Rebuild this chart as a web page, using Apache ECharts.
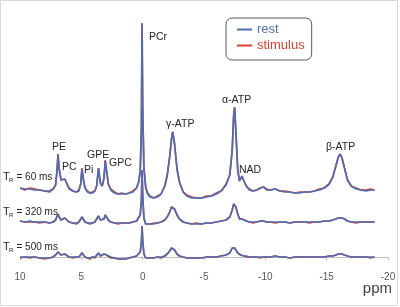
<!DOCTYPE html>
<html>
<head>
<meta charset="utf-8">
<script src="https://cdn.jsdelivr.net/npm/echarts@6/dist/echarts.min.js"></script>
<style>
  html, body { margin: 0; padding: 0; background: #fff; }
  #chart { width: 400px; height: 307px; }
</style>
</head>
<body>
<div id="chart"></div>
<script>
// chemical shift (ppm), shared by every trace
const ppm = [
  10, 9.6, 9.2, 8.8, 8.4, 8.0, 7.6, 7.3, 7.1, 7.0,
  6.9, 6.8, 6.65, 6.5, 6.35, 6.2, 6.0, 5.7, 5.4, 5.2,
  5.05, 4.95, 4.85, 4.7, 4.5, 4.3, 4.1, 3.9, 3.75, 3.6,
  3.45, 3.3, 3.15, 3.05, 2.95, 2.8, 2.6, 2.3, 2.0, 1.7,
  1.4, 1.1, 0.8, 0.5, 0.35, 0.2, 0.1, 0.05, 0, -0.1,
  -0.25, -0.4, -0.6, -0.9, -1.2, -1.5, -1.8, -2.0, -2.2, -2.35,
  -2.45, -2.6, -2.8, -3.0, -3.3, -3.6, -4.0, -4.4, -4.8, -5.2,
  -5.6, -6.0, -6.4, -6.8, -7.1, -7.3, -7.42, -7.5, -7.6, -7.75,
  -7.9, -8.0, -8.1, -8.25, -8.45, -8.7, -9.0, -9.3, -9.6, -9.85,
  -10.1, -10.4, -10.8, -11.2, -11.6, -12.0, -12.4, -12.8, -13.2, -13.6,
  -14.0, -14.4, -14.8, -15.2, -15.5, -15.75, -15.95, -16.1, -16.25, -16.45,
  -16.7, -17.0, -17.4, -17.8, -18.2, -18.6, -18.9
];

// TR = 60 ms
const rest60 = [
  2, 1, 1, 0, 0, -1, -1, 1, 5, 16,
  34, 20, 10, 8, 11, 7, 2, -1, -2, -1,
  6, 21, 12, 2, -2, -3, -3, -1, 4, 22,
  7, 4, 12, 29, 20, 6, 0, -3, -4, -4,
  -4, -3, -2, 2, 7, 18, 65, 167, 85, 22,
  2, -4, -7, -8, -7, -4, 4, 14, 33, 51,
  58, 46, 21, 8, -2, -6, -8, -8, -8, -7,
  -6, -4, -1, 5, 15, 40, 75, 83, 58, 20,
  9, 10, 14, 9, 4, 0, -1, 0, 2, 3,
  0, 0, 1, -1, -2, -2, -3, -3, -2, -2,
  -1, 0, 2, 6, 13, 24, 33, 36, 32, 22,
  10, 4, 1, 0, -1, 0, 0
];
const stim60 = [
  2, 0, 2, 1, 0, -1, -2, 1, 5, 17,
  36, 21, 10, 9, 11, 7, 1, -1, -2, 0,
  6, 22, 12, 2, -1, -3, -2, -1, 4, 22,
  7, 4, 12, 30, 20, 6, 1, -2, -4, -3,
  -4, -3, -1, 2, 7, 18, 65, 166, 85, 22,
  3, -3, -6, -8, -6, -4, 4, 15, 33, 51,
  58, 46, 21, 8, -2, -5, -7, -8, -8, -6,
  -6, -3, -1, 6, 15, 40, 75, 82, 58, 20,
  9, 10, 14, 9, 4, 1, -1, 0, 2, 3,
  1, 0, 1, -1, -1, -2, -3, -2, -2, -2,
  -1, 1, 2, 6, 13, 24, 33, 36, 32, 22,
  10, 4, 2, 0, 0, 1, 0
];

// TR = 320 ms
const rest320 = [
  1, 0, 1, 0, 0, 0, -1, 0, 2, 5,
  8, 5, 2, 3, 4, 2, 0, -1, -1, 0,
  2, 5, 3, 0, -1, -1, -1, 0, 1, 6,
  2, 1, 3, 7, 5, 2, 0, -1, -1, -1,
  -1, -1, 0, 1, 3, 7, 22, 52, 27, 4,
  -2, -3, -2, -2, -1, 0, 2, 5, 10, 15,
  17, 13, 7, 3, 0, -1, -2, -2, -2, -1,
  -1, 0, 1, 2, 5, 12, 18, 20, 15, 8,
  3, 3, 3, 2, 1, 0, 0, 0, 1, 1,
  0, 0, 0, 0, 0, -1, 0, 0, 0, 0,
  0, 0, 1, 1, 2, 3, 4, 5, 4, 3,
  1, 0, 0, 0, 0, 0, 0
];
const stim320 = [
  1, 0, 0, 0, -1, 0, -1, 0, 2, 5,
  8, 5, 2, 3, 4, 2, 0, -1, -2, 0,
  2, 5, 3, 0, -1, -2, -1, 0, 1, 6,
  2, 1, 3, 7, 5, 2, 0, -1, -2, -1,
  -1, -1, 0, 1, 3, 7, 22, 51, 27, 4,
  -2, -3, -2, -1, -1, 0, 2, 5, 10, 15,
  17, 13, 7, 3, 0, -1, -2, -1, -2, -1,
  -1, 0, 1, 2, 5, 12, 18, 20, 15, 8,
  3, 3, 3, 2, 1, 0, -1, 0, 1, 1,
  0, 0, -1, 0, 0, -1, 0, 0, 0, -1,
  0, 0, 1, 1, 2, 3, 4, 5, 4, 3,
  1, 0, -1, 0, 0, 0, 0
];

// TR = 500 ms
const rest500 = [
  0, 0, 0, 0, -1, -1, -1, 0, 2, 4,
  5, 4, 2, 2, 3, 2, 0, 0, 0, 0,
  2, 4, 2, 0, -1, -1, 0, 0, 1, 4,
  1, 1, 3, 4, 2, 0, 0, -1, -2, -2,
  -2, -1, 0, 1, 2, 5, 15, 31, 17, 3,
  -1, -1, -1, -1, 0, 0, 1, 3, 6, 9,
  10, 7, 3, 1, 0, -1, -1, -1, -1, 0,
  0, 0, 1, 2, 4, 9, 10, 9, 7, 4,
  3, 2, 2, 1, 1, 0, 0, 0, 0, 0,
  0, 0, 1, 0, 0, -1, 0, 0, 0, 0,
  0, 0, 0, 1, 1, 2, 3, 4, 3, 2,
  1, 0, 0, 0, 0, 0, 0
];
const stim500 = [
  -1, 0, -1, 0, -1, -2, -1, 0, 2, 4,
  5, 4, 2, 2, 3, 2, 0, -1, 0, 0,
  2, 4, 2, 0, -1, -2, 0, -1, 1, 4,
  1, 1, 3, 4, 2, 0, -1, -1, -2, -2,
  -2, -1, 0, 1, 2, 5, 15, 31, 17, 3,
  -1, -2, -1, -1, 0, -1, 1, 3, 6, 9,
  10, 7, 3, 1, 0, -1, -1, -1, -1, 0,
  0, 0, 1, 2, 4, 9, 10, 9, 7, 4,
  3, 2, 2, 1, 0, 0, 0, 0, -1, 0,
  0, 0, 1, 0, 0, -1, 0, 0, 0, 0,
  0, 0, 0, 1, 1, 2, 3, 4, 3, 2,
  1, 0, 0, 0, 0, -1, 0
];

const xTicks = [10, 5, 0, -5, -10, -15, -20];

const peakLabels = [
  { text: 'PCr', x: 149, y: 37 },
  { text: 'γ-ATP', x: 166, y: 124 },
  { text: 'α-ATP', x: 222, y: 100 },
  { text: 'NAD', x: 239, y: 170 },
  { text: 'β-ATP', x: 326, y: 147 },
  { text: 'PE', x: 52, y: 147 },
  { text: 'PC', x: 62, y: 167 },
  { text: 'Pi', x: 84, y: 170 },
  { text: 'GPE', x: 87, y: 155 },
  { text: 'GPC', x: 109, y: 163 }
];
const trLabels = [
  { value: '60', y: 177 },
  { value: '320', y: 212 },
  { value: '500', y: 247 }
];

const BLUE = '#4d6db5';
const RED = '#d94030';
const FONT = 'Liberation Sans, Arial, sans-serif';

[rest60, stim60, rest320, stim320, rest500, stim500].forEach((arr) => {
  if (arr.length !== ppm.length) {
    throw new Error(`length mismatch ${arr.length} vs ${ppm.length}`);
  }
});

const toPairs = arr => ppm.map((p, i) => [p, arr[i]]);

const chart = echarts.init(document.getElementById('chart'), null, { renderer: 'canvas' });

// one grid per trace, same x scale
const grids = [
  { left: 20, right: 12, top: 20, bottom: 107 },
  { left: 20, right: 12, top: 162, bottom: 75 },
  { left: 20, right: 12, top: 216, bottom: 41 }
];
const yRanges = [[-10, 170], [-10, 60], [-9, 41]];

const xAxes = grids.map((g, i) => ({
  type: 'value',
  gridIndex: i,
  inverse: true,
  min: -20,
  max: 10,
  interval: 5,
  show: i === 2,
  axisLine: { show: true, lineStyle: { color: '#bfbfbf', width: 1 } },
  axisTick: { show: true, length: 3, lineStyle: { color: '#bfbfbf' } },
  splitLine: { show: false },
  axisLabel: {
    color: '#595959',
    fontSize: 10,
    fontFamily: FONT,
    margin: 6,
    formatter: v => (xTicks.indexOf(v) >= 0 ? String(v) : '')
  }
}));

const yAxes = yRanges.map((r, i) => ({
  type: 'value',
  gridIndex: i,
  min: r[0],
  max: r[1],
  show: false,
  splitLine: { show: false }
}));

const traces = [[stim60, rest60], [stim320, rest320], [stim500, rest500]];
const series = [];
traces.forEach((pair, i) => {
  series.push({
    name: 'stimulus',
    type: 'line',
    xAxisIndex: i,
    yAxisIndex: i,
    data: toPairs(pair[0]),
    showSymbol: false,
    clip: false,
    lineStyle: { color: RED, width: 1.7 },
    itemStyle: { color: RED }
  });
  series.push({
    name: 'rest',
    type: 'line',
    xAxisIndex: i,
    yAxisIndex: i,
    data: toPairs(pair[1]),
    showSymbol: false,
    clip: false,
    lineStyle: { color: BLUE, width: 1.7 },
    itemStyle: { color: BLUE }
  });
});

const graphic = [
  {
    type: 'rect',
    shape: { x: 0.5, y: 0.5, width: 397, height: 305 },
    style: { fill: 'none', stroke: '#d9d9d9', lineWidth: 1 },
    silent: true
  },
  {
    type: 'text',
    style: {
      text: 'ppm', x: 392, y: 289, fill: '#404040',
      font: `15px ${FONT}`, textAlign: 'right', textVerticalAlign: 'middle'
    }
  }
];
peakLabels.forEach((l) => {
  graphic.push({
    type: 'text',
    style: {
      text: l.text, x: l.x, y: l.y, fill: '#262626',
      font: `10.5px ${FONT}`, textVerticalAlign: 'middle'
    }
  });
});
trLabels.forEach((l) => {
  graphic.push({
    type: 'text',
    style: { text: 'T', x: 3, y: l.y, fill: '#262626', font: `11px ${FONT}`, textVerticalAlign: 'middle' }
  });
  graphic.push({
    type: 'text',
    style: { text: 'R', x: 9, y: l.y + 3, fill: '#262626', font: `6px ${FONT}`, textVerticalAlign: 'middle' }
  });
  graphic.push({
    type: 'text',
    style: { text: `= ${l.value} ms`, x: 16.5, y: l.y, fill: '#262626', font: `10px ${FONT}`, textVerticalAlign: 'middle' }
  });
});

chart.setOption({
  animation: false,
  grid: grids,
  xAxis: xAxes,
  yAxis: yAxes,
  legend: {
    left: 226,
    top: 18,
    orient: 'vertical',
    icon: 'rect',
    itemWidth: 15,
    itemHeight: 2,
    itemGap: 3,
    padding: [5, 7, 8, 11],
    borderColor: '#595959',
    borderWidth: 1,
    borderRadius: 6,
    textStyle: { fontSize: 13, fontFamily: FONT },
    data: [
      { name: 'rest', textStyle: { color: BLUE } },
      { name: 'stimulus', textStyle: { color: RED } }
    ]
  },
  series,
  graphic
});
</script>
</body>
</html>
